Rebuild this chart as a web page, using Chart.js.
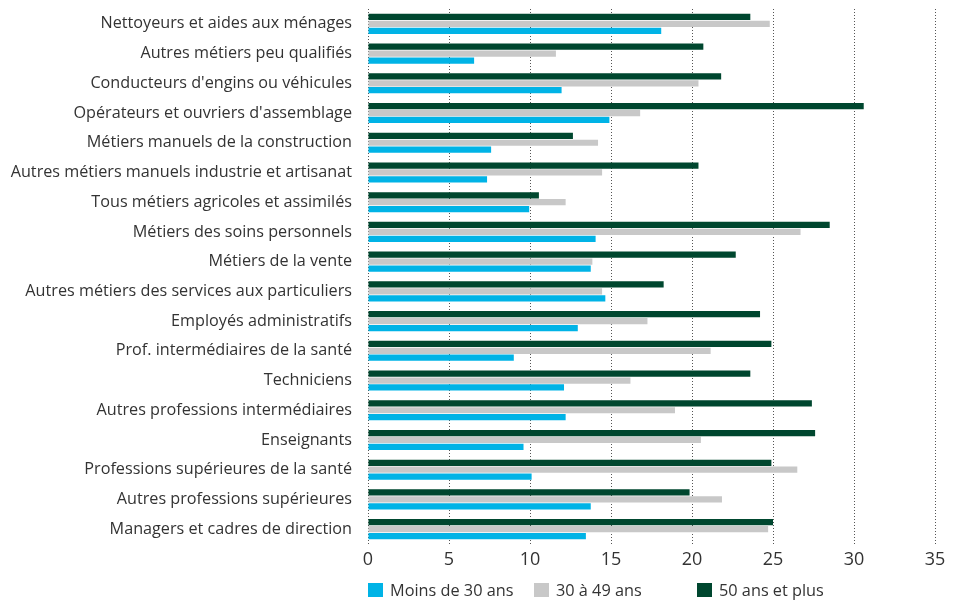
<!DOCTYPE html>
<html>
<head>
<meta charset="utf-8">
<script src="https://cdn.jsdelivr.net/npm/chart.js@4/dist/chart.umd.min.js"></script>
<style>
  html, body { margin: 0; padding: 0; background: #fff; overflow: hidden; }
  #wrap { position: relative; width: 953px; height: 601px; }
  canvas { display: block; }
  #legend { position: absolute; left: 0; top: 579px; width: 953px; height: 22px; font: 16.3px "Open Sans", sans-serif; color: #333; }
  #legend span.item { position: absolute; top: 0; white-space: nowrap; line-height: 22px; }
  #legend i { display: inline-block; width: 15px; height: 14px; vertical-align: -1px; margin-right: 7px; }
</style>
</head>
<body>
<div id="wrap">
  <canvas id="bars" width="953" height="601"></canvas>
  <div id="legend"></div>
</div>
<script>
const categories = [
  'Nettoyeurs et aides aux ménages',
  'Autres métiers peu qualifiés',
  "Conducteurs d'engins ou véhicules",
  "Opérateurs et ouvriers d'assemblage",
  'Métiers manuels de la construction',
  'Autres métiers manuels industrie et artisanat',
  'Tous métiers agricoles et assimilés',
  'Métiers des soins personnels',
  'Métiers de la vente',
  'Autres métiers des services aux particuliers',
  'Employés administratifs',
  'Prof. intermédiaires de la santé',
  'Techniciens',
  'Autres professions intermédiaires',
  'Enseignants',
  'Professions supérieures de la santé',
  'Autres professions supérieures',
  'Managers et cadres de direction',
]

// % by age group
const moins30 = [18.1, 6.55, 11.95, 14.9, 7.6, 7.35, 9.95, 14.05, 13.75, 14.65, 12.95, 9.0, 12.1, 12.2, 9.6, 10.1, 13.75, 13.45]
const de30a49 = [24.8, 11.6, 20.4, 16.8, 14.2, 14.45, 12.2, 26.7, 13.85, 14.45, 17.25, 21.15, 16.2, 18.95, 20.55, 26.5, 21.85, 24.7]
const plus50 = [23.6, 20.7, 21.8, 30.6, 12.65, 20.4, 10.55, 28.5, 22.7, 18.25, 24.2, 24.9, 23.6, 27.4, 27.6, 24.9, 19.85, 25.0]

const xTicks = [0, 5, 10, 15, 20, 25, 30, 35]

const seriesLabels = ['Moins de 30 ans', '30 à 49 ans', '50 ans et plus']
const seriesColors = ['#00b3e6', '#c8c8c8', '#00472f']
const legendLeft = [368, 534, 697]

const font = '"Open Sans", sans-serif'

const barConfig = {
  type: 'bar',
  data: {
    labels: categories,
    // top-to-bottom inside each group: 50+, 30-49, <30
    datasets: [
      { label: seriesLabels[2], data: plus50, backgroundColor: seriesColors[2] },
      { label: seriesLabels[1], data: de30a49, backgroundColor: seriesColors[1] },
      { label: seriesLabels[0], data: moins30, backgroundColor: seriesColors[0] },
    ],
  },
  options: {
    indexAxis: 'y',
    responsive: false,
    animation: false,
    datasets: {
      bar: { categoryPercentage: 0.7, barPercentage: 0.9, borderWidth: 0 },
    },
    layout: { padding: { top: 9, right: 18, bottom: 35, left: 0 } },
    plugins: {
      legend: { display: false },
      tooltip: { enabled: false },
    },
    scales: {
      x: {
        min: 0,
        max: 35,
        afterBuildTicks: (s) => { s.ticks = xTicks.map(v => ({ value: v })) },
        afterFit: (s) => { s.height = 22; s.paddingLeft = 0; s.paddingRight = 0 },
        grid: { color: '#555', lineWidth: 1, drawTicks: false },
        border: { display: false, dash: [1, 2] },
        ticks: { padding: 5, color: '#333', font: { family: font, size: 18 } },
      },
      y: {
        afterFit: (s) => { s.width = 368; s.paddingTop = 0; s.paddingBottom = 0 },
        grid: { display: false, drawTicks: false },
        border: { display: false },
        ticks: { padding: 16, color: '#333', font: { family: font, size: 16.2 }, autoSkip: false },
      },
    },
  },
}

const barsCtx = document.getElementById('bars')
window.myBar = new Chart(barsCtx, barConfig)

// legend below the plot
const legendEl = document.getElementById('legend')
seriesLabels.forEach((lab, i) => {
  const s = document.createElement('span')
  s.className = 'item'
  s.style.left = legendLeft[i] + 'px'
  s.innerHTML = '<i style="background:' + seriesColors[i] + '"></i>' + lab
  legendEl.appendChild(s)
})
</script>
</body>
</html>
